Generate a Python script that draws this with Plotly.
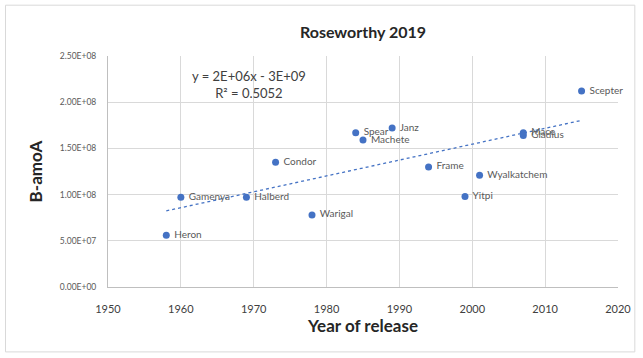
import numpy as np
import plotly.graph_objects as go

# Wheat varieties: year of release and B-amoA abundance
varieties = ["Heron", "Gamenya", "Halberd", "Condor", "Warigal", "Spear", "Machete",
             "Janz", "Frame", "Yitpi", "Wyalkatchem", "Mace", "Gladius", "Scepter"]
release_year = [1958, 1960, 1969, 1973, 1978, 1984, 1985, 1989, 1994, 1999, 2001, 2007, 2007, 2015]
b_amoa = [5.6e7, 9.7e7, 9.7e7, 1.35e8, 7.8e7, 1.67e8, 1.59e8, 1.72e8, 1.30e8, 9.8e7, 1.21e8,
          1.67e8, 1.64e8, 2.12e8]

y_tick_vals = [0, 5e7, 1e8, 1.5e8, 2e8, 2.5e8]
y_tick_text = ["0.00E+00", "5.00E+07", "1.00E+08", "1.50E+08", "2.00E+08", "2.50E+08"]
x_tick_vals = [1950, 1960, 1970, 1980, 1990, 2000, 2010, 2020]

equation_text = "y = 2E+06x - 3E+09<br>R² = 0.5052"

# Linear trendline fitted to the points
xs = np.array(release_year, dtype=float)
ys = np.array(b_amoa, dtype=float)
slope, intercept = np.polyfit(xs, ys, 1)
trend_x = np.array([xs.min(), xs.max()])
trend_y = slope * trend_x + intercept

FONT = "Lato, Calibri, Arial, sans-serif"
BLUE = "#4472C4"

fig = go.Figure()
fig.add_trace(go.Scatter(
    x=trend_x, y=trend_y, mode="lines",
    line=dict(color=BLUE, width=1.3, dash="dot"),
    hoverinfo="skip", showlegend=False,
))
fig.add_trace(go.Scatter(
    x=release_year, y=b_amoa, mode="markers+text",
    text=["\u00a0" + v for v in varieties], textposition="middle right",
    textfont=dict(family=FONT, size=10, color="#595959"),
    marker=dict(color=BLUE, size=7),
    cliponaxis=False,
    showlegend=False,
))

fig.add_annotation(
    x=0.277, y=0.955, xref="paper", yref="paper",
    text=equation_text, showarrow=False, align="center",
    font=dict(family=FONT, size=13, color="#404040"),
    xanchor="center", yanchor="top",
)

# outer chart border
fig.add_shape(type="rect", xref="paper", yref="paper",
              x0=-0.201, x1=1.033, y0=-0.281, y1=1.22,
              line=dict(color="#d9d9d9", width=1), layer="below")

fig.update_layout(
    width=643, height=358,
    margin=dict(l=108, r=23, t=56, b=71),
    paper_bgcolor="white", plot_bgcolor="white",
    title=dict(text="<b>Roseworthy 2019</b>", x=0.5, xanchor="center",
               y=0.91, yanchor="middle", xref="paper",
               font=dict(family=FONT, size=16, color="#262626")),
    font=dict(family=FONT),
)
fig.update_xaxes(
    range=[1950, 2020], tickvals=x_tick_vals,
    showgrid=True, gridcolor="#d9d9d9", gridwidth=1,
    showline=True, linecolor="#bfbfbf", mirror=False,
    zeroline=False, ticks="", ticklabelstandoff=12,
    tickfont=dict(family=FONT, size=11, color="#404040"),
    title=dict(text="<b>Year of release</b>", standoff=2,
               font=dict(family=FONT, size=17, color="#262626")),
)
fig.update_yaxes(
    range=[0, 2.5e8], tickvals=y_tick_vals, ticktext=y_tick_text,
    showgrid=True, gridcolor="#d9d9d9", gridwidth=1,
    showline=True, linecolor="#bfbfbf",
    zeroline=False, ticks="", ticklabelstandoff=9,
    tickfont=dict(family=FONT, size=8.5, color="#595959"),
    title=dict(text="<b>B-amoA</b>", standoff=12,
               font=dict(family=FONT, size=17, color="#262626")),
)

fig.write_html("out.html")
